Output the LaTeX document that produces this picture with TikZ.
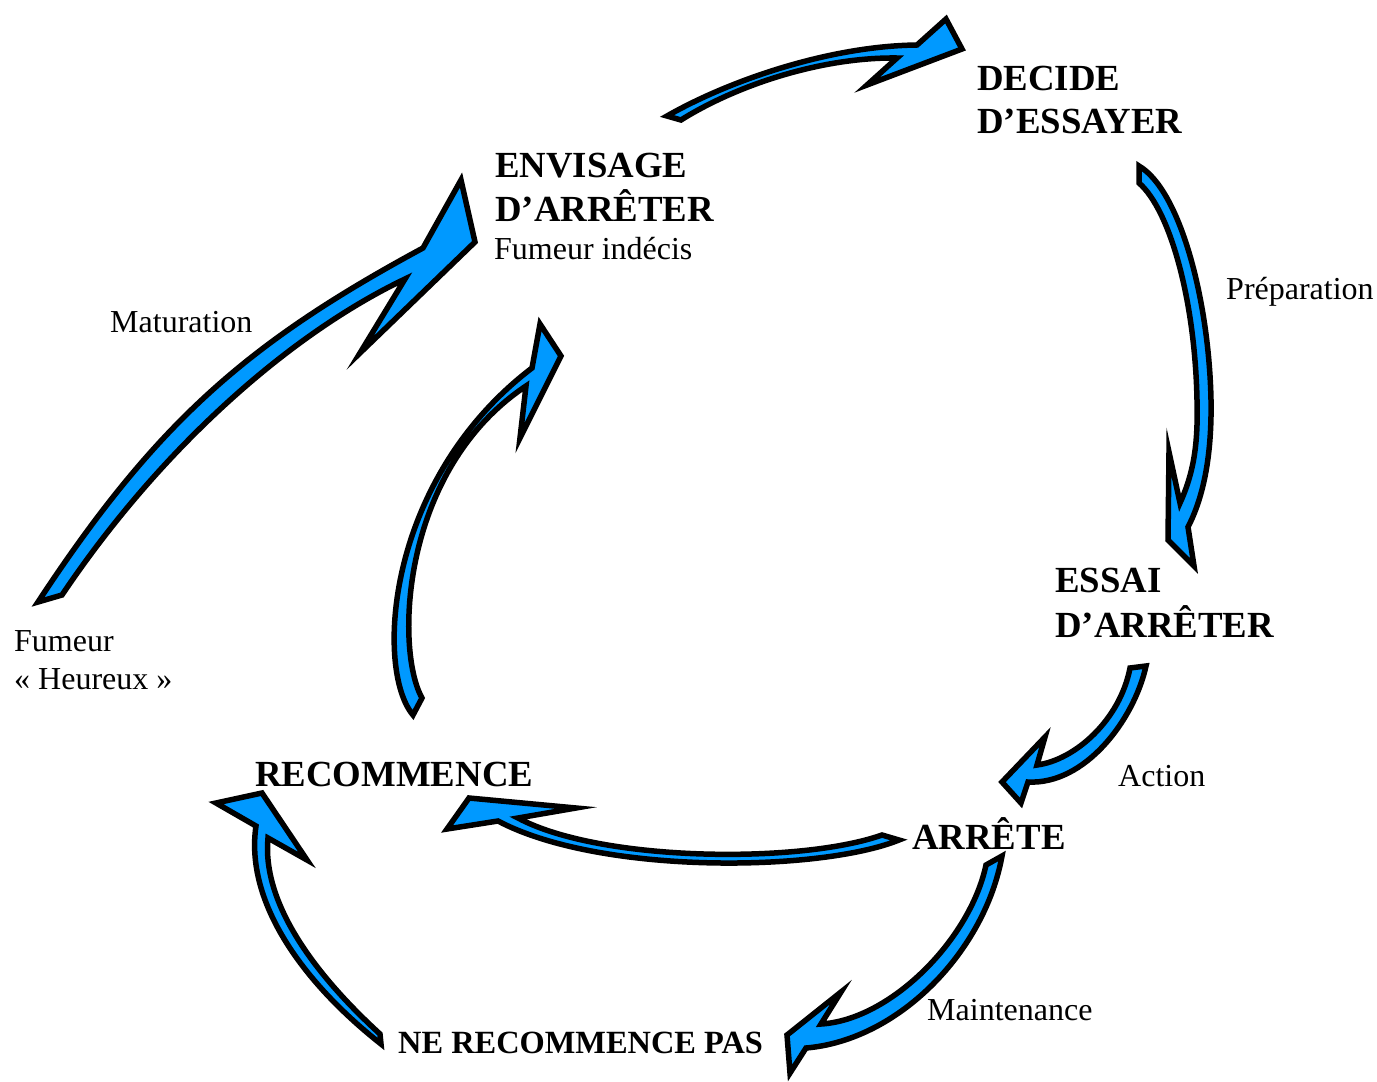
\documentclass[tikz,border=0pt]{standalone}
\usepackage{fontspec}
\setmainfont{Liberation Serif}
\definecolor{arrowblue}{RGB}{0,153,255}
\tikzset{
  bigarrow/.style={fill=arrowblue, draw=black, line width=5.5pt, line join=miter, miter limit=10},
  boldlabel/.style={anchor=base west, inner sep=0pt, font=\fontsize{36.8}{44}\selectfont\bfseries},
  smallboldlabel/.style={anchor=base west, inner sep=0pt, font=\fontsize{32.4}{38}\selectfont\bfseries},
  plainlabel/.style={anchor=base west, inner sep=0pt, font=\fontsize{32}{38}\selectfont},
}
\begin{document}
\begin{tikzpicture}[x=1pt,y=-1pt]
\useasboundingbox (0,0) rectangle (1377,1082);

% Arrow 1: top (ENVISAGE -> DECIDE)
\draw[bigarrow] (667,116) .. controls (730,80) and (830,46) .. (917,45)
  -- (946,19) -- (962,49) -- (867,85) -- (897,58)
  .. controls (820,57) and (735,86) .. (681,120) -- cycle;

% Arrow 2: right (Preparation)
\draw[bigarrow] (1139,166) .. controls (1180,190) and (1209,300) .. (1211,400)
  .. controls (1212,460) and (1202,500) .. (1188,527)
  -- (1194,566) -- (1168,540) -- (1169,452) -- (1180,503)
  .. controls (1195,470) and (1198,440) .. (1197,400)
  .. controls (1195,300) and (1170,210) .. (1139,183) -- cycle;

% Arrow 3: Action
\draw[bigarrow] (1146,666) .. controls (1134,720) and (1085,785) .. (1028,782)
  -- (1021,803) -- (1002,782) -- (1045,737) -- (1037,765)
  .. controls (1075,760) and (1120,720) .. (1130,668) -- cycle;

% Arrow 4: ARRETE -> RECOMMENCE
\draw[bigarrow] (899,840) .. controls (820,872) and (600,875) .. (498,821)
  -- (447,829) -- (469,798) -- (576,808) -- (518,818)
  .. controls (600,862) and (800,864) .. (882,835) -- cycle;

% Arrow 5: Maintenance
\draw[bigarrow] (1002,856) .. controls (985,950) and (900,1040) .. (806,1048)
  -- (790,1073) -- (787,1035) -- (841,992) -- (821,1024)
  .. controls (890,1020) and (970,940) .. (986,865) -- cycle;

% Arrow 6: NE RECOMMENCE PAS -> RECOMMENCE
\draw[bigarrow] (381,1044) .. controls (300,980) and (245,900) .. (256,826)
  -- (216,803) -- (262,793) -- (307,860) -- (268,838)
  .. controls (262,900) and (310,970) .. (380,1034) -- cycle;

% Arrow 7: RECOMMENCE -> ENVISAGE
\draw[bigarrow] (413,715) .. controls (375,670) and (385,480) .. (532,368)
  -- (540,324) -- (561,356) -- (520,438) -- (526,386)
  .. controls (400,470) and (395,650) .. (422,698) -- cycle;

% Arrow 8: Maturation
\draw[bigarrow] (38,602) .. controls (157,421) and (249,342) .. (423,248)
  -- (461,180) -- (475,242) -- (360,353) -- (405,279)
  .. controls (286,336) and (158,452) .. (62,595) -- cycle;

% Labels
\node[boldlabel] (decide1) at (977,90) {DECIDE};
\node[boldlabel] (decide2) at (977,133) {D’ESSAYER};
\node[boldlabel] (envisage1) at (495,177) {ENVISAGE};
\node[boldlabel] (envisage2) at (495,221) {D’ARRÊTER};
\node[plainlabel] (indecis) at (494,259) {Fumeur indécis};
\node[plainlabel] (preparation) at (1226,299) {Préparation};
\node[boldlabel] (essai1) at (1055,592) {ESSAI};
\node[boldlabel] (essai2) at (1055,637) {D’ARRÊTER};
\node[plainlabel] (action) at (1118,786) {Action};
\node[boldlabel] (arrete) at (912,849) {ARRÊTE};
\node[boldlabel] (recommence) at (255,786) {RECOMMENCE};
\node[plainlabel] (maintenance) at (927,1020) {Maintenance};
\node[smallboldlabel] (nerecommence) at (398,1053) {NE RECOMMENCE PAS};
\node[plainlabel] (maturation) at (110,332) {Maturation};
\node[plainlabel] (fumeur1) at (14,651) {Fumeur};
\node[plainlabel] (fumeur2) at (14,689) {« Heureux »};
\end{tikzpicture}
\end{document}
